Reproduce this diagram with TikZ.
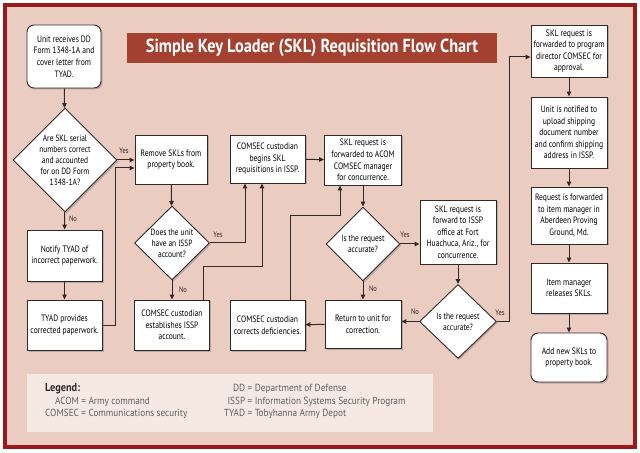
\documentclass[tikz,border=0pt]{standalone}
\usepackage{fontspec}
\setmainfont{PT Sans}[FakeStretch=0.82]
\newfontfamily\titlefont{PT Sans}[FakeStretch=0.86]
\newfontfamily\legfont{PT Sans}[FakeStretch=0.9]
\usetikzlibrary{shapes.geometric,shadows,arrows.meta}
\definecolor{bgpink}{RGB}{234,204,193}
\definecolor{framered}{RGB}{155,25,25}
\definecolor{banner}{RGB}{165,65,48}
\definecolor{legbg}{RGB}{246,233,228}
\definecolor{lineclr}{RGB}{50,40,38}
\definecolor{legtxt}{RGB}{95,95,95}
\tikzset{
  box/.style={draw=lineclr, line width=0.9bp, fill=white,
    drop shadow={shadow xshift=1.5bp,shadow yshift=-1.5bp,opacity=0.45},
    align=center, inner sep=1bp, font=\fontsize{9.3}{11.6}\selectfont},
  rbox/.style={box, rounded corners=7bp},
  dia/.style={diamond, draw=lineclr, line width=0.9bp, fill=white,
    drop shadow={shadow xshift=1.5bp,shadow yshift=-1.5bp,opacity=0.45},
    inner sep=0bp},
  dtext/.style={align=center, font=\fontsize{9.1}{11}\selectfont},
  arr/.style={draw=lineclr, line width=1bp, -{Triangle[length=5bp,width=4.5bp]}},
  yn/.style={font=\fontsize{8}{9}\selectfont, text=lineclr, inner sep=0.5bp}
}
\begin{document}
\begin{tikzpicture}[x=1bp,y=-1bp]
\useasboundingbox (0,0) rectangle (640,453);
\fill[white] (0,0) rectangle (640,453);
\draw[framered, line width=3.5bp, fill=bgpink] (5,5) rectangle (635,447);
% title
\fill[banner] (127,33) rectangle (497,63);
\node[font=\titlefont\bfseries\fontsize{19}{20}\selectfont, text=white, inner sep=0] (title) at (312,48) {Simple Key Loader (SKL) Requisition Flow Chart};
% legend
\fill[legbg] (27,374) rectangle (433,432);
\node[anchor=north west, inner sep=0, font=\legfont\fontsize{10.3}{12.5}\selectfont, text=legtxt] (legL) at (45,383)
 {\begin{tabular}{@{}r@{ = }l@{}}\multicolumn{2}{@{}l}{\textcolor{lineclr}{\bfseries\fontsize{11.5}{12.5}\selectfont Legend:}}\\ ACOM & Army command\\ COMSEC & Communications security\end{tabular}};
\node[anchor=north west, inner sep=0, font=\legfont\fontsize{10.3}{12.5}\selectfont, text=legtxt] (legR) at (224,383)
 {\begin{tabular}{@{}r@{ = }l@{}}DD & Department of Defense\\ ISSP & Information Systems Security Program\\ TYAD & Tobyhanna Army Depot\end{tabular}};
% nodes
\node[rbox, minimum width=74bp, minimum height=63bp] (start) at (64,56.5) {Unit receives DD\\Form 1348-1A and\\cover letter from\\TYAD.};
\node[dia, minimum width=104bp, minimum height=104bp, label={[dtext]center:Are SKL serial\\numbers correct\\and accounted\\for on DD Form\\1348-1A?}] (d1) at (65,160) {};
\node[box, minimum width=75bp, minimum height=51bp] (notify) at (64.5,255.5) {Notify TYAD of\\incorrect paperwork.};
\node[box, minimum width=75bp, minimum height=50bp] (tyadp) at (64.5,325) {TYAD provides\\corrected paperwork.};
\node[box, minimum width=72bp, minimum height=49bp] (remove) at (171,159.5) {Remove SKLs from\\property book.};
\node[dia, minimum width=75bp, minimum height=74bp, label={[dtext]center:Does the unit\\have an ISSP\\account?}] (d2) at (172,243) {};
\node[box, minimum width=75bp, minimum height=50bp] (establish) at (172,325) {COMSEC custodian\\establishes ISSP\\account.};
\node[box, minimum width=75bp, minimum height=48bp] (begins) at (267.5,159) {COMSEC custodian\\begins SKL\\requisitions in ISSP.};
\node[box, minimum width=75bp, minimum height=50bp] (corrects) at (267.5,325) {COMSEC custodian\\corrects deficiencies.};
\node[box, minimum width=77bp, minimum height=50bp] (acom) at (363,160) {SKL request is\\forwarded to ACOM\\COMSEC manager\\for concurrence.};
\node[dia, minimum width=74bp, minimum height=74bp, label={[dtext]center:Is the request\\accurate?}] (d3) at (363,244) {};
\node[box, minimum width=76bp, minimum height=48bp] (ret) at (363,324) {Return to unit for\\correction.};
\node[box, minimum width=76bp, minimum height=64bp] (issp) at (458,232) {SKL request is\\forward to ISSP\\office at Fort\\Huachuca, Ariz., for\\concurrence.};
\node[dia, minimum width=77bp, minimum height=74bp, label={[dtext]center:Is the request\\accurate?}] (d4) at (458,321.5) {};
\node[box, minimum width=76bp, minimum height=52bp] (prog) at (569,51) {SKL request is\\forwarded to program\\director COMSEC for\\approval.};
\node[box, minimum width=76bp, minimum height=71bp] (notif) at (569,132.5) {Unit is notified to\\upload shipping\\document number\\and confirm shipping\\address in ISSP.};
\node[box, minimum width=76bp, minimum height=57bp] (reqf) at (569,215.5) {Request is forwarded\\to item manager in\\Aberdeen Proving\\Ground, Md.};
\node[box, minimum width=76bp, minimum height=50bp] (item) at (569,288) {Item manager\\releases SKLs.};
\node[rbox, minimum width=76bp, minimum height=49bp] (addn) at (569,357.5) {Add new SKLs to\\property book.};
% bend coordinates
\coordinate (j1) at (115,168);
\coordinate (j2) at (245,243);
\coordinate (j3) at (203,267);
\coordinate (j4) at (262,267);
\coordinate (j5) at (290,216);
\coordinate (j6) at (340,216);
\coordinate (j7) at (509,57);
% connectors
\draw[arr] (start) -- (d1);
\draw[arr] (d1.east) -- (d1.east -| remove.west);
\draw[arr] (d1) -- (notify);
\draw[arr] (notify) -- (tyadp);
\draw[arr] (tyadp.east) -| (j1) -- (j1 -| remove.west);
\draw[arr] (remove) -- (d2);
\draw[arr] (d2.east) -- (j2) -- (j2 |- begins.south);
\draw[arr] (d2) -- (establish);
\draw[arr] (j3 |- establish.north) -- (j3) -- (j4) -- (j4 |- begins.south);
\draw[arr] (begins) -- (acom);
\draw[arr] (j5 |- corrects.north) -- (j5) -- (j6) -- (j6 |- acom.south);
\draw[arr] (acom) -- (d3);
\draw[arr] (d3.east) -- (d3.east -| issp.west);
\draw[arr] (d3) -- (ret);
\draw[arr] (issp) -- (d4);
\draw[arr] (d4.west) -- (d4.west -| ret.east);
\draw[arr] (ret) -- (corrects);
\draw[arr] (d4.east) -| (j7) -- (j7 -| prog.west);
\draw[arr] (prog) -- (notif);
\draw[arr] (notif) -- (reqf);
\draw[arr] (reqf) -- (item);
\draw[arr] (item) -- (addn);
% yes/no labels
\node[yn] (y1) at (124,151) {Yes};
\node[yn] (n1) at (73,219) {No};
\node[yn] (y2) at (218,235) {Yes};
\node[yn] (n2) at (183,290) {No};
\node[yn] (y3) at (405,235) {Yes};
\node[yn] (n3) at (373,289) {No};
\node[yn] (n4) at (415,312) {No};
\node[yn] (y4) at (500,313) {Yes};
\end{tikzpicture}
\end{document}
